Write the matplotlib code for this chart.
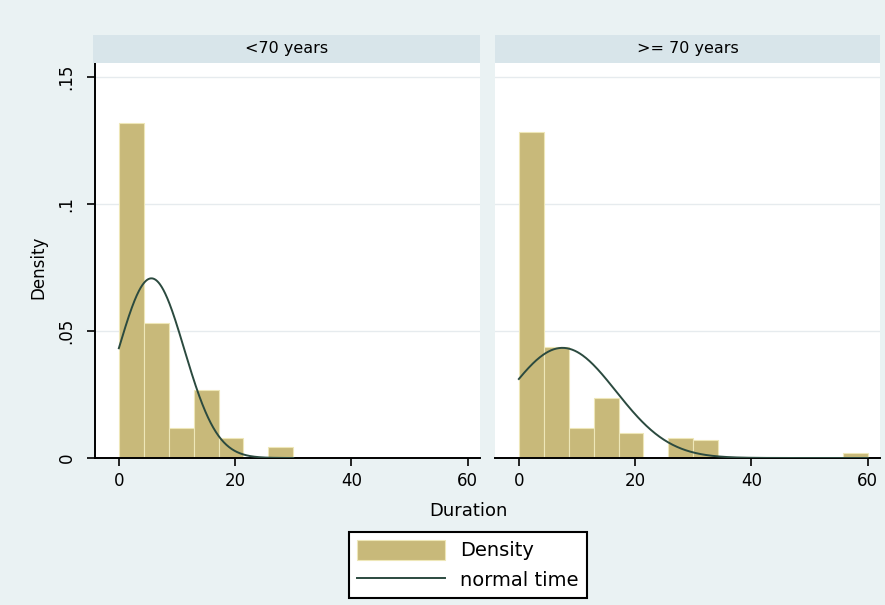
import numpy as np
import matplotlib
matplotlib.use("Agg")
import matplotlib.pyplot as plt
from matplotlib.patches import Patch
from matplotlib.lines import Line2D

# ---- data ----
panels = ["<70 years", ">= 70 years"]
bin_start = 0.0
bin_width = 60.0 / 14
dens_lt70 = [0.132, 0.053, 0.0117, 0.0268, 0.008, 0.0, 0.0045,
             0.0, 0.0, 0.0, 0.0, 0.0, 0.0, 0.0]
dens_ge70 = [0.1285, 0.0438, 0.0117, 0.0235, 0.0097, 0.0, 0.0078,
             0.0071, 0.0, 0.0, 0.0, 0.0, 0.0, 0.0019]
normal_mean = [5.6, 7.5]
normal_sd = [5.64, 9.2]
data_max = [30.0, 60.0]
xticks = [0, 20, 40, 60]
yticks = [0, 0.05, 0.10, 0.15]
ytick_labels = ["0", ".05", ".1", ".15"]
legend_labels = ["Density", "normal time"]
xlabel = "Duration"
ylabel = "Density"

# ---- style ----
W, H = 885, 605
bg = "#EAF2F3"
strip_col = "#D8E5EA"
bar_face = "#C8B97A"
bar_edge = "#EEE7B8"
curve_col = "#2B4A3F"
grid_col = "#E6EBEE"

fig = plt.figure(figsize=(W / 100, H / 100), dpi=100, facecolor=bg)

def fbox(x0, y0, x1, y1):
    return [x0 / W, 1 - y1 / H, (x1 - x0) / W, (y1 - y0) / H]

panel_px = [(95, 480), (495, 880)]
plot_top, plot_bot = 63, 458
strip_top = 35
y_top = (plot_bot - plot_top) / 2540.0

densities = [dens_lt70, dens_ge70]
for i, (x0, x1) in enumerate(panel_px):
    ax = fig.add_axes(fbox(x0, plot_top, x1, plot_bot))
    ax.set_facecolor("white")
    ax.set_xlim(-4.1, 62.1)
    ax.set_ylim(0, y_top)
    edges = bin_start + bin_width * np.arange(len(densities[i]))
    ax.bar(edges, densities[i], width=bin_width, align="edge",
           color=bar_face, edgecolor=bar_edge, linewidth=0.8, zorder=2)
    xs = np.linspace(bin_start, data_max[i], 400)
    ys = np.exp(-0.5 * ((xs - normal_mean[i]) / normal_sd[i]) ** 2) / (normal_sd[i] * np.sqrt(2 * np.pi))
    ax.plot(xs, ys, color=curve_col, lw=1.4, zorder=3)
    for yv in yticks[1:]:
        ax.axhline(yv, color=grid_col, lw=1.0, zorder=1)
    ax.set_xticks(xticks)
    ax.set_xticklabels([str(v) for v in xticks])
    ax.tick_params(axis="x", direction="out", length=6, width=1.2, pad=4,
                   labelsize=12, colors="black")
    for s in ["top", "right"]:
        ax.spines[s].set_visible(False)
    ax.spines["bottom"].set_linewidth(1.4)
    if i == 0:
        ax.spines["left"].set_linewidth(1.4)
        ax.set_yticks(yticks)
        ax.set_yticklabels(ytick_labels)
        ax.tick_params(axis="y", direction="out", length=6, width=1.2, pad=8,
                       labelsize=12)
        plt.setp(ax.get_yticklabels(), rotation=90, va="center")
    else:
        ax.spines["left"].set_visible(False)
        ax.set_yticks([])
    # strip
    sax = fig.add_axes(fbox(x0 - (2 if i == 0 else 0), strip_top, x1, plot_top))
    sax.set_facecolor(strip_col)
    sax.set_xticks([])
    sax.set_yticks([])
    for s in sax.spines.values():
        s.set_visible(False)
    sax.text(0.5, 0.5, panels[i], ha="center", va="center", fontsize=11.5,
             transform=sax.transAxes)

fig.text(468 / W, 1 - 511 / H, xlabel, ha="center", va="center", fontsize=13)
fig.text(38 / W, 1 - 267 / H, ylabel, ha="center", va="center", fontsize=12,
         rotation=90)

handles = [Patch(facecolor=bar_face, edgecolor=bar_edge, linewidth=0.8),
           Line2D([0], [0], color=curve_col, lw=1.4)]
leg = fig.legend(handles, legend_labels, loc="upper center",
                 bbox_to_anchor=(468 / W, 1 - 532 / H), frameon=True,
                 fancybox=False, edgecolor="black", facecolor="white",
                 framealpha=1, fontsize=14, handlelength=4.5,
                 handleheight=1.23, labelspacing=0.46, borderpad=0.4,
                 handletextpad=0.8, borderaxespad=0)
leg.get_frame().set_linewidth(1.5)

fig.savefig("out.png", dpi=100, facecolor=bg)
